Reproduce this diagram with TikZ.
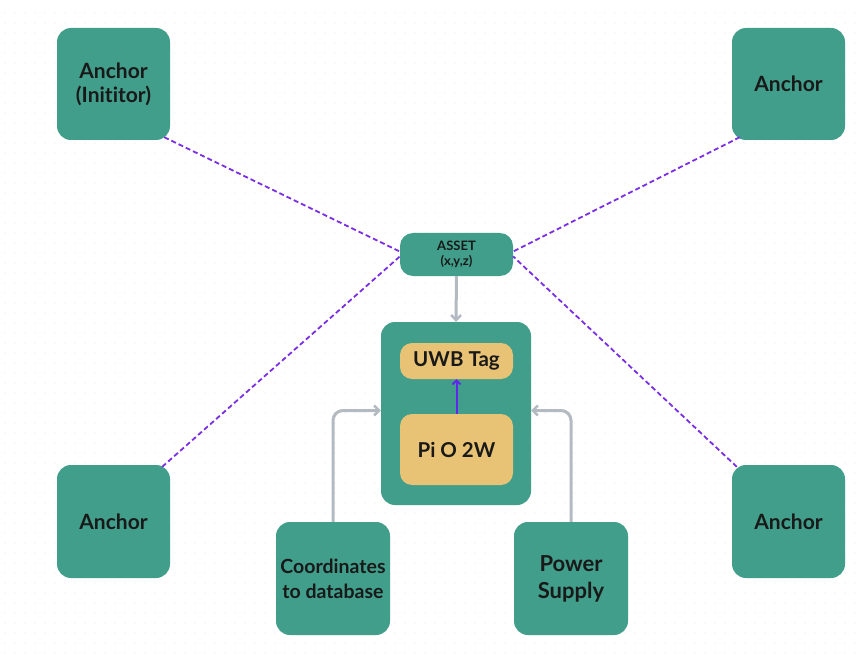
\documentclass[tikz,border=0pt]{standalone}
\usepackage{fontspec}
\setmainfont{Lato}[Ligatures=NoCommon]
\usetikzlibrary{arrows.meta,calc}
\definecolor{teal1}{HTML}{419E8B}
\definecolor{gold1}{HTML}{E9C375}
\definecolor{grayarr}{HTML}{B3BAC2}
\definecolor{purp}{HTML}{7A2EE6}
\definecolor{dotc}{HTML}{E6E6E6}
\tikzset{
  box/.style={fill=teal1, rounded corners=14pt, align=center, font=\bfseries\fontsize{21}{24}\selectfont, text=black!90},
  ybox/.style={fill=gold1, rounded corners=12pt, align=center, font=\bfseries\fontsize{20.5}{23}\selectfont, text=black!90},
  dashl/.style={draw=purp, dashed, dash pattern=on 5pt off 3pt, line width=1.8pt},
  garr/.style={draw=grayarr, line width=3pt, rounded corners=10pt, -{Straight Barb[length=5pt,width=10pt,line width=2.5pt]}},
}
\begin{document}
\begin{tikzpicture}[x=1pt,y=-1pt]
\useasboundingbox (0,0) rectangle (863,666);
\fill[white] (0,0) rectangle (863,666);
\foreach \i in {0,...,85}{\foreach \j in {1,...,65}{\fill[dotc] (\i*10+5,\j*10+3) circle (0.7pt);}}
% anchors
\node[box, minimum width=113pt, minimum height=112pt] (a1) at (113.5,84) {Anchor\\(Inititor)};
\node[box, minimum width=113pt, minimum height=112pt] (a2) at (788.5,84) {Anchor};
\node[box, minimum width=113pt, minimum height=113pt] (a3) at (113.5,521.5) {Anchor};
\node[box, minimum width=113pt, minimum height=113pt] (a4) at (788.5,521.5) {Anchor};
% asset
\node[box, rounded corners=13pt, minimum width=113pt, minimum height=43pt, font=\bfseries\fontsize{13}{15}\selectfont] (asset) at (456.5,254.5) {ASSET\\(x,y,z)};
% big box
\node[box, minimum width=150pt, minimum height=183pt] (big) at (456,413.5) {};
\node[ybox, minimum width=113pt, minimum height=36pt] (uwb) at (456.5,361) {UWB Tag};
\node[ybox, minimum width=113pt, minimum height=71pt] (pi) at (456.5,449.5) {Pi O 2W};
% bottom
\node[box, minimum width=114pt, minimum height=113pt, font=\bfseries\fontsize{19.5}{25}\selectfont] (coord) at (333,578.5) {Coordinates\\to database};
\node[box, minimum width=114pt, minimum height=113pt, font=\bfseries\fontsize{22}{27}\selectfont] (power) at (571,578.5) {Power\\Supply};
% dashed links
\draw[dashl] ($(a1.south east)+(-6,-3)$) -- ($(asset.west)+(0,-3)$);
\draw[dashl] ($(a3.north east)+(-8,2)$) -- ($(asset.west)+(0,2)$);
\draw[dashl] ($(a2.south west)+(8,-3)$) -- ($(asset.east)+(0,-3)$);
\draw[dashl] ($(a4.north west)+(5,2)$) -- ($(asset.east)+(0,2)$);
% arrows
\draw[draw=grayarr, line width=3pt, -{Straight Barb[length=5pt,width=10pt,line width=2.5pt]}] (asset.south) -- (big.north);
\draw[draw=purp!80!blue, line width=2pt, -{Straight Barb[length=4pt,width=8pt,line width=1.8pt]}] (pi.north) -- (uwb.south);
\draw[garr] (coord.north) |- ($(big.west)+(0,-3)$);
\draw[garr] (power.north) |- ($(big.east)+(0,-3)$);
\end{tikzpicture}
\end{document}
